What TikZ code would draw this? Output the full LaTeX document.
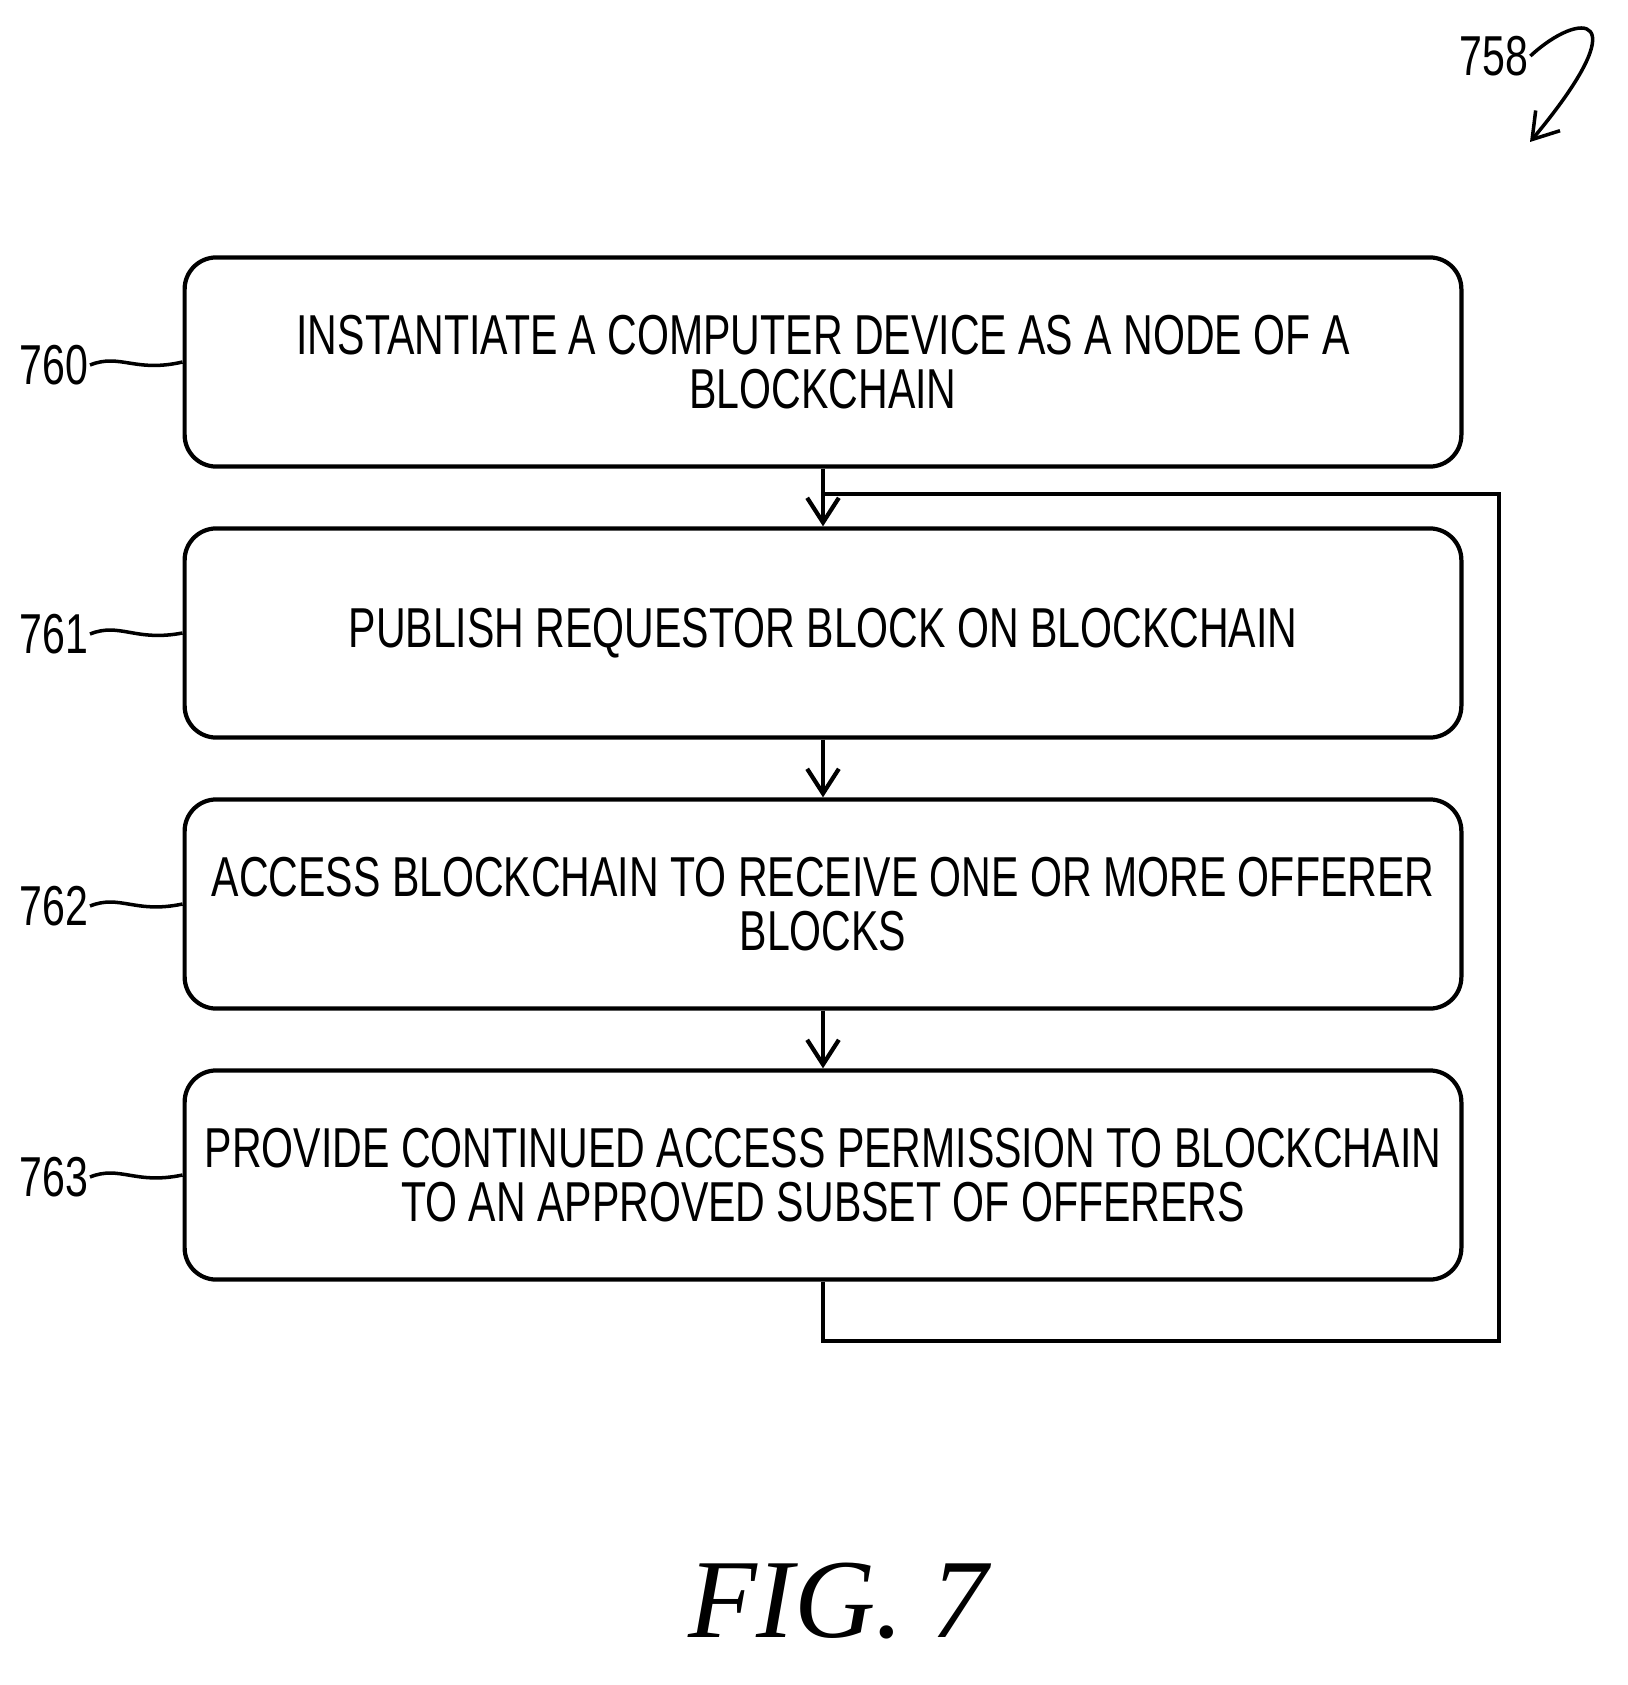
\documentclass[tikz,border=0pt]{standalone}
\usepackage{fontspec}
\setmainfont{Liberation Sans}[FakeStretch=0.73]
\newfontfamily\figfont{Liberation Serif}
\usetikzlibrary{arrows.meta}
\begin{document}
\begin{tikzpicture}[x=0.01cm,y=-0.01cm,line width=1.2pt,
  box/.style={draw,rounded corners=9pt,minimum width=12.76cm,minimum height=2.09cm,align=center,font=\fontsize{16}{15.5}\selectfont,inner sep=0pt},
  lbl/.style={font=\fontsize{16}{16}\selectfont,inner sep=0pt},
  arr/.style={-{Straight Barb[length=7pt,width=9pt]}}]
\useasboundingbox (0,0) rectangle (1628,1685);
\node[box] (b0) at (823,362) {INSTANTIATE A COMPUTER DEVICE AS A NODE OF A\\BLOCKCHAIN};
\node[box] (b1) at (823,633) {PUBLISH REQUESTOR BLOCK ON BLOCKCHAIN};
\node[box] (b2) at (823,904) {ACCESS BLOCKCHAIN TO RECEIVE ONE OR MORE OFFERER\\BLOCKS};
\node[box] (b3) at (823,1175) {PROVIDE CONTINUED ACCESS PERMISSION TO BLOCKCHAIN\\TO AN APPROVED SUBSET OF OFFERERS};
\draw[arr] (b0) -- (b1);
\draw[arr] (b1) -- (b2);
\draw[arr] (b2) -- (b3);
\coordinate (j) at (823,494);
\draw[sharp corners] (b3.south) -- (823,1341) -- (1499,1341) -- (1499,494) -- (j);
\foreach \n/\t/\y in {b0/760/365,b1/761/634,b2/762/906,b3/763/1177}{
  \node[lbl,anchor=east] (l\t) at (90,\y) {\t};
  \draw[line width=1pt] (l\t.east) .. controls (120,\y-12) and (135,\y+8) .. (\n.west);
}
\node[lbl] (l758) at (1494,56) {758};
\draw[line width=1pt,arr] (l758.east) .. controls (1580,10) and (1640,10) .. (1530,142);
\node[font=\figfont\itshape\fontsize{32}{32}\selectfont] (fig) at (838,1601) {FIG. 7};
\end{tikzpicture}
\end{document}
